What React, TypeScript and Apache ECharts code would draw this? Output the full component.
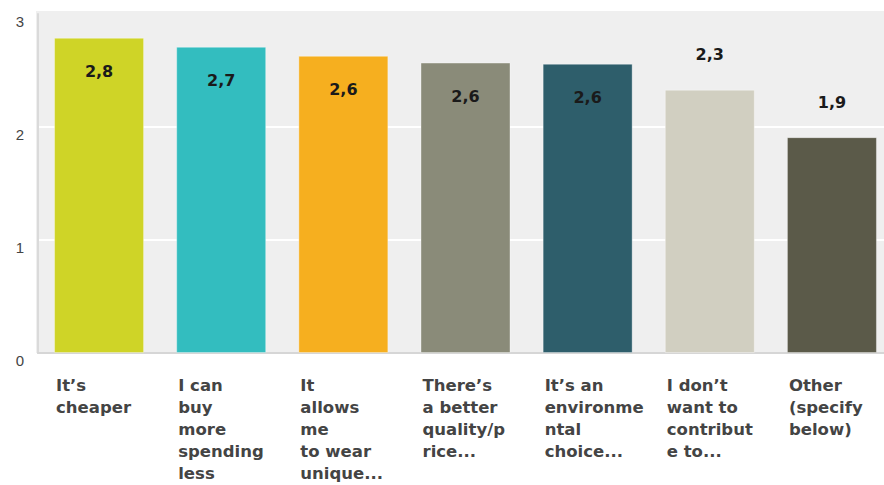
import React, { useEffect, useRef } from "react";
import * as echarts from "echarts";

const categories = [
  "It’s\ncheaper",
  "I can\nbuy\nmore\nspending\nless",
  "It\nallows\nme\nto wear\nunique...",
  "There’s\na better\nquality/p\nrice...",
  "It’s an\nenvironme\nntal\nchoice...",
  "I don’t\nwant to\ncontribut\ne to...",
  "Other\n(specify\nbelow)",
];
const values = [2.79, 2.71, 2.63, 2.57, 2.56, 2.33, 1.91];
const barColors = ["#cfd427", "#33bdbf", "#f6af1f", "#8a8b79", "#2e5e6b", "#d1cfc1", "#5b5a49"];
const labelsOutside = [false, false, false, false, false, true, true];
const yTicks = { min: 0, max: 3, interval: 1 };

export default function App() {
  const ref = useRef<HTMLDivElement>(null);
  useEffect(() => {
    if (!ref.current) return;
    const chart = echarts.init(ref.current, null, { renderer: "svg" });
    const data = values.map((v, i) => ({
      value: v,
      itemStyle: { color: barColors[i], borderColor: "rgba(255,255,255,0.35)", borderWidth: 1 },
      label: labelsOutside[i]
        ? { position: "top", distance: 27 }
        : { position: "insideTop", distance: 26 },
    }));
    chart.setOption({
      animation: false,
      graphic: {
        elements: [
          {
            type: "rect",
            z: -10,
            silent: true,
            shape: { x: 36, y: 11, width: 860, height: 342 },
            style: { fill: "#efefef" },
          },
        ],
      },
      grid: { left: 38, right: 0, top: 14, bottom: 132, containLabel: false },
      xAxis: {
        type: "category",
        data: categories,
        axisLine: { show: true, lineStyle: { color: "#d6d6d6", width: 2 } },
        axisTick: { show: false },
        axisLabel: {
          interval: 0,
          align: "left",
          verticalAlign: "top",
          margin: 21,
          padding: [0, 0, 0, -43],
          fontFamily: "DejaVu Sans",
          fontWeight: "bold",
          fontSize: 16.5,
          lineHeight: 22,
          color: "#444444",
        },
      },
      yAxis: {
        type: "value",
        min: yTicks.min,
        max: yTicks.max,
        interval: yTicks.interval,
        axisLine: { show: true, lineStyle: { color: "#dadada", width: 2 } },
        axisTick: { show: false },
        splitLine: { show: true, showMaxLine: false, lineStyle: { color: "#ffffff", width: 2 } },
        axisLabel: {
          margin: 14,
          verticalAlign: "top",
          fontFamily: "Liberation Sans",
          fontSize: 15,
          color: "#444444",
        },
      },
      series: [
        {
          type: "bar",
          data,
          barWidth: 90,
          label: {
            show: true,
            fontFamily: "DejaVu Sans",
            fontWeight: "bold",
            fontSize: 16,
            color: "#1a1a1a",
            formatter: (p: any) => p.value.toFixed(1).replace(".", ","),
          },
        },
      ],
    });
    return () => chart.dispose();
  }, []);
  return (
    <div
      style={{ position: "absolute", left: 0, top: 0, width: 884, height: 485, overflow: "hidden" }}
    >
      <div ref={ref} style={{ width: 893, height: 485 }} />
    </div>
  );
}
